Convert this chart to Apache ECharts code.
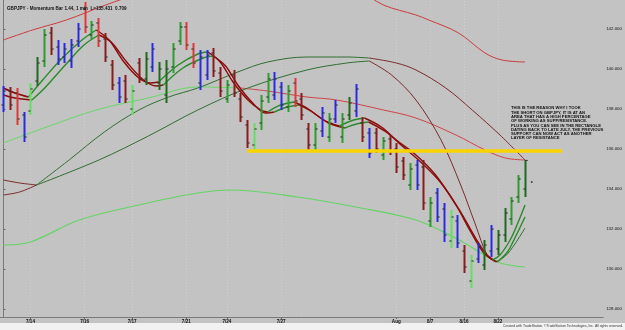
<!DOCTYPE html>
<html><head><meta charset="utf-8">
<script src="https://cdn.jsdelivr.net/npm/echarts@6/dist/echarts.min.js"></script>
<style>html,body{margin:0;padding:0;background:#c3c3c3;overflow:hidden}#c{width:625px;height:330px}</style>
</head><body><div id="c"></div>
<script>
// ---------- DATA ----------
const titleText = 'GBPJPY - Momentum Bar 1.44, 1 min  L=135.431  0.709';
const dateLabelIdx = [4, 12, 19, 27, 33, 41, 58, 63, 68, 73];
const dateLabels = ['7/14', '7/16', '7/17', '7/21', '7/24', '7/27', 'Aug', '8/7', '8/16', '8/22'];
const yTicks = [128, 130, 132, 134, 136, 138, 140, 142];

const barStates = ['B','DR','R','B','LG','DG','G','DR','B','B','B','B','R','G','R','DR','DR','B','DR','LG',
 'DR','DG','B','DG','DG','G','G','R','R','B','B','DR','DR','G','DR','DR','DR','LG','G','G',
 'B','B','G','R','DR','DR','G','B','G','B','G','DG','B','DR','B','DR','G','DR','DR','DR',
 'G','B','DR','G','B','B','LG','B','DR','LG','B','DG','B','DG','DG','G','G','DG'];
const highs = [139.15,139.10,139.05,137.85,139.30,140.60,142.00,142.10,141.45,141.30,
 141.50,142.30,143.35,142.40,142.55,141.80,140.45,139.60,139.70,139.20,
 140.55,140.85,141.30,140.35,140.45,141.30,142.35,142.35,141.30,140.95,
 140.95,141.05,140.10,139.45,139.95,138.80,137.45,137.30,138.70,139.80,
 139.85,139.35,139.20,139.55,138.80,137.30,137.30,138.10,137.80,138.45,
 137.80,138.60,139.25,137.60,137.05,137.05,136.60,136.70,136.30,135.60,
 135.30,135.45,135.45,133.60,134.05,133.30,132.95,132.70,131.20,130.70,
 131.30,131.45,132.20,131.95,133.05,133.60,134.70,135.45];
const lows = [137.85,137.95,137.20,136.35,137.70,139.15,140.10,140.70,140.20,140.30,
 140.05,141.10,141.80,141.50,141.10,140.35,138.95,138.30,138.30,137.70,
 139.30,139.20,139.85,138.95,138.30,139.80,141.20,140.95,140.05,138.95,
 139.45,139.60,138.60,138.30,138.60,137.35,136.05,135.90,136.95,138.30,
 138.45,137.95,137.85,138.10,137.45,135.95,135.95,136.60,136.35,137.30,
 136.30,137.45,137.60,136.35,135.55,135.80,135.45,135.70,134.80,134.45,
 133.95,133.95,132.95,132.10,132.35,131.35,131.05,131.05,129.80,129.05,
 130.30,129.95,130.60,130.70,131.35,132.20,133.30,133.60];
const opens = [138.20,138.90,138.80,137.70,137.90,139.40,140.40,141.80,141.10,140.60,
 140.40,141.40,143.00,141.70,142.30,141.50,140.20,139.30,139.40,138.00,
 140.30,139.50,140.10,139.30,138.70,140.10,141.40,142.10,141.00,139.30,
 139.70,140.80,139.80,138.50,139.70,138.50,137.20,136.20,137.30,138.60,
 138.70,139.10,138.10,139.30,138.50,137.00,136.20,136.90,136.60,137.50,
 136.60,137.70,137.90,137.30,136.80,136.80,135.70,136.50,136.00,135.40,
 134.20,135.20,135.10,132.40,133.80,133.00,131.40,132.40,130.90,129.40,
 130.50,130.20,130.90,131.00,131.70,132.50,133.60,134.00];
const closes = [138.90,138.20,137.50,136.60,139.00,140.30,141.70,141.00,140.50,141.00,
 141.20,142.00,142.10,142.20,141.40,140.60,139.20,138.60,138.50,138.90,
 139.50,140.50,141.00,140.00,140.00,141.00,142.10,141.20,140.30,140.60,
 140.70,139.90,138.90,139.20,138.80,137.60,136.30,137.00,138.40,139.50,
 139.50,138.20,138.90,138.40,137.70,136.20,137.00,137.80,137.50,138.20,
 137.50,138.30,139.00,136.60,135.80,136.00,136.40,135.90,135.10,134.70,
 135.00,134.20,133.30,133.30,132.60,131.70,132.60,131.30,130.10,130.40,
 131.10,131.20,132.00,131.70,132.80,133.40,134.50,135.43];

// indicator lines: [barIndex, price]
const upperBand = [[0,141.45],[4.3,141.95],[9.3,142.45],[15.1,143.2],[20,143.75],[30,144.5],[45,144.5],[52,144.0],[56.1,143.2],[60.9,142.7],[62.8,142.45],[67.2,141.8],[71.1,140.8],[73.6,140.45],[77,140.35]];
const lowerBand = [[0,131.2],[4,131.35],[11.2,132.45],[20,133.2],[28.7,133.8],[33.6,133.95],[43.4,133.6],[52,133.1],[60.9,132.45],[67,131.5],[73,130.35],[77,130.1]];
const midBand = [[0,136.3],[6.8,137.15],[13.7,137.95],[21.4,138.55],[28.7,139.1],[35,139.05],[39,138.9],[44.8,138.6],[49.2,138.45],[56.1,137.95],[60.9,137.55],[66.8,136.7],[71.1,135.95],[74.1,135.55],[77,135.45]];
const midTurns = [35];
const fast1 = [[0,139.05],[1.7,138.8],[3.7,138.6],[5.8,139.45],[8.7,140.55],[11.6,141.45],[13.7,141.95],[15.6,141.45],[17.8,140.35],[20,139.55],[21.7,139.3],[22.9,139.35],[25.8,140.2],[28.7,140.75],[30.2,140.85],[32,140.35],[33.9,139.35],[36.1,138.45],[38,137.95],[39,137.85],[40.9,138.2],[42.9,138.35],[44.8,138.05],[47.3,137.45],[49.6,137.15],[51.7,137.45],[53.3,137.55],[55.8,137.1],[58,136.45],[60.9,135.7],[63.8,134.7],[66.8,133.2],[69,131.85],[70.8,130.85],[72.2,130.45],[73.3,130.7],[74.8,131.45],[76,132.35],[77,133.2]];
const fast1Turns = [3.7,13.7,22.9,30.2,39,42.9,49.6,53.3,72.2];
const fast2 = [[0,138.7],[1.7,138.55],[4.2,138.45],[6.1,139.05],[9,140.15],[11.9,141.2],[14.1,141.7],[15.9,141.35],[18.2,140.35],[20.7,139.45],[22.6,139.15],[23.6,139.2],[26.5,140.05],[29.5,140.55],[31,140.65],[32.8,140.15],[34.6,139.2],[36.8,138.3],[38.7,137.8],[40,137.85],[41.9,138.1],[43.7,138.2],[45.6,137.85],[48,137.3],[50.4,137.05],[52.1,137.25],[53.9,137.35],[56.5,136.85],[58.7,136.2],[61.6,135.35],[64.6,134.3],[67.5,132.85],[69.7,131.55],[71.4,130.7],[72.9,130.35],[74.4,130.85],[75.5,131.55],[77,132.6]];
const fast2Turns = [4.2,14.1,23.6,31,40,43.7,50.4,53.9,72.9];
const slow1 = [[0,134.45],[2.4,134.3],[4.9,134.2],[9.7,135.45],[14.9,136.85],[20,137.95],[24.4,138.6],[28.7,139.05],[34.6,139.85],[39,140.35],[44.8,140.6],[50.7,140.6],[54,140.55],[58,140.3],[60.9,139.95],[65.3,139.05],[69.2,137.95],[73.3,136.7],[77,135.45]];
const slow1Turns = [4.9, 54];
const slow2 = [[0,133.7],[2.4,133.85],[4.9,134.2],[14.1,135.45],[21.4,136.65],[28.7,137.95],[36.1,139.05],[44.8,139.95],[50.7,140.3],[54,140.4],[57.3,139.7],[60.9,138.45],[64.6,136.45],[67.5,134.2],[69.7,132.2],[71.4,130.7],[72.6,130.35],[74.1,130.65],[75.5,131.25],[77,132.05]];
const slow2Turns = [4.9, 54, 72.6];
const nextDot = [[78, 134.35]];

const supportLevel = 135.9, supportFrom = 36, supportTo = 82.5;
const noteText = ['THIS IS THE REASON WHY I TOOK','THE SHORT ON GBPJPY, IT IS AT AN','AREA THAT HAS A HIGH PERCENTAGE','OF WORKING AS SUPP/RESISTANCE.','PLUS AS YOU CAN SEE IN THE RECTANGLE','DATING BACK TO LATE JULY, THE PREVIOUS','SUPPORT CAN NOW ACT AS ANOTHER','LAYER OF RESISTANCE'];
const priceTags = [
  {v: 140.347, text: '140.347', bg: '#e02424', fg: '#ffffff'},
  {v: 135.975, text: '135.975', bg: '#e02424', fg: '#ffffff'},
  {v: 135.431, text: '135.431', bg: '#000000', fg: '#ffffff'},
  {v: 134.376, text: '134.376', bg: '#2020e0', fg: '#ffffff'},
  {v: 133.190, text: '133.190', bg: '#ff8a2a', fg: '#ffffff'},
  {v: 132.060, text: '132.060', bg: '#2020e0', fg: '#ffffff'},
  {v: 130.102, text: '130.102', bg: '#33e033', fg: '#1a3a1a'}
];

// ---------- STYLE ----------
const stateColors = {R:'#e03838', DR:'#8a1c1c', B:'#2a2ae4', G:'#2e9c2e', DG:'#1e6a1e', LG:'#62e062'};

// split a line at its turning points into alternately coloured pieces (points shared at the turns)
function segments(name, pts, turns, firstColor, secondColor, width) {
  const bounds = [-Infinity].concat(turns, [Infinity]);
  const out = [];
  for (let k = 0; k < bounds.length - 1; k++) {
    const seg = pts.filter(p => p[0] >= bounds[k] && p[0] <= bounds[k + 1]);
    out.push({type: 'line', name: name + k, data: seg, smooth: 0.35, symbol: 'none', silent: true,
      lineStyle: {color: k % 2 === 0 ? firstColor : secondColor, width: width}, z: 2});
  }
  return out;
}

const ohlc = highs.map((h, i) => [i, opens[i], closes[i], lows[i], h]);

function renderBar(params, api) {
  const i = api.value(0);
  const pO = api.coord([i, api.value(1)]);
  const pC = api.coord([i, api.value(2)]);
  const pL = api.coord([i, api.value(3)]);
  const pH = api.coord([i, api.value(4)]);
  const col = stateColors[barStates[params.dataIndex]];
  const x = Math.round(pH[0]) + 0.5;
  return {type: 'group', children: [
    {type: 'line', shape: {x1: x, y1: pH[1], x2: x, y2: pL[1]}, style: {stroke: col, lineWidth: 2}},
    {type: 'line', shape: {x1: x - 2.2, y1: pO[1], x2: x, y2: pO[1]}, style: {stroke: '#2a2a2a', lineWidth: 1}},
    {type: 'line', shape: {x1: x, y1: pC[1], x2: x + 2.2, y2: pC[1]}, style: {stroke: '#2a2a2a', lineWidth: 1}}
  ]};
}

const series = [
  {type: 'line', name: 'upper', data: upperBand, smooth: 0.35, symbol: 'none', silent: true, lineStyle: {color: '#cc3c3c', width: 1}, z: 2,
   markLine: {silent: true, symbol: 'none', animation: false, z: 1,
     data: dateLabelIdx.map(v => ({xAxis: v, lineStyle: {color: '#d0d0d0', type: [1, 2], width: 1}, label: {show: false}}))}},
  {type: 'line', name: 'lower', data: lowerBand, smooth: 0.35, symbol: 'none', silent: true, lineStyle: {color: '#64d464', width: 1.2}, z: 2}
].concat(
  segments('mid', midBand, midTurns, '#66d866', '#d04444', 1),
  segments('slow1', slow1, slow1Turns, '#7a2a2a', '#2f6f2f', 1),
  segments('slow2', slow2, slow2Turns, '#7a2a2a', '#2f6f2f', 1),
  segments('fast2', fast2, fast2Turns, '#8b0a0a', '#2a8a2a', 1.4),
  segments('fast1', fast1, fast1Turns, '#8b0a0a', '#2a8a2a', 1.4),
  [
    {type: 'custom', name: 'bars', renderItem: renderBar, data: ohlc, encode: {x: 0, y: [1, 2, 3, 4]}, z: 3, silent: true,
     markLine: {silent: true, symbol: 'none', animation: false, z: 6,
       data: [
         [{coord: [supportFrom, supportLevel], lineStyle: {color: '#f7d400', width: 3.5, type: 'solid'}, label: {show: false}},
          {coord: [supportTo, supportLevel]}]
       ].concat(priceTags.map(t => ({yAxis: t.v, lineStyle: {opacity: 0}, label: {show: true, position: 'end', distance: 1, formatter: t.text, backgroundColor: t.bg, color: t.fg, fontSize: 4.4, padding: [1, 1], fontFamily: 'Liberation Sans'}})))
     }},
    {type: 'scatter', data: nextDot, symbolSize: 2, itemStyle: {color: '#223'}, silent: true, z: 4}
  ]
);

const chart = echarts.init(document.getElementById('c'), null, {renderer: 'canvas'});
chart.setOption({
  animation: false,
  backgroundColor: '#c3c3c3',
  title: {text: titleText, left: 2, top: 1, textStyle: {fontSize: 4.6, fontWeight: 'bold', color: '#111', fontFamily: 'Liberation Sans'}},
  grid: {left: 0, right: 16, top: 0, bottom: 13, show: true, backgroundColor: '#c3c3c3', borderWidth: 0},
  xAxis: {
    type: 'value', min: -0.5, max: 88.53,
    axisLine: {show: true, lineStyle: {color: '#7a7a7a', width: 1}},
    axisTick: {show: true, customValues: dateLabelIdx, length: 2, lineStyle: {color: '#666'}},
    axisLabel: {customValues: dateLabelIdx, formatter: v => dateLabels[dateLabelIdx.indexOf(v)] || '', fontSize: 4.6, fontWeight: 'bold', color: '#111', margin: 2, fontFamily: 'Liberation Sans'},
    splitLine: {show: false}
  },
  yAxis: {
    type: 'value', position: 'right', min: 127.6, max: 143.45,
    axisLine: {show: true, lineStyle: {color: '#7a7a7a', width: 1}},
    axisTick: {show: true, customValues: yTicks, length: 2, lineStyle: {color: '#666'}},
    axisLabel: {customValues: yTicks, formatter: v => v.toFixed(3), fontSize: 4.4, color: '#111', margin: 3, fontFamily: 'Liberation Sans'},
    splitLine: {show: false}
  },
  series: series,
  graphic: [
    {type: 'rect', left: 0, top: 323, shape: {width: 625, height: 7}, style: {fill: '#f2f2f2'}, silent: true},
    {type: 'text', left: 511, top: 106, style: {text: noteText.join('\n'), font: 'bold 4.2px "Liberation Sans"', lineHeight: 4.3, fill: '#111'}, silent: true},
    {type: 'text', right: 2, top: 325, style: {text: 'Created with TradeStation. \u00a9TradeStation Technologies, Inc. All rights reserved.', font: '3.4px "Liberation Sans"', fill: '#333'}, silent: true}
  ]
});
</script></body></html>
